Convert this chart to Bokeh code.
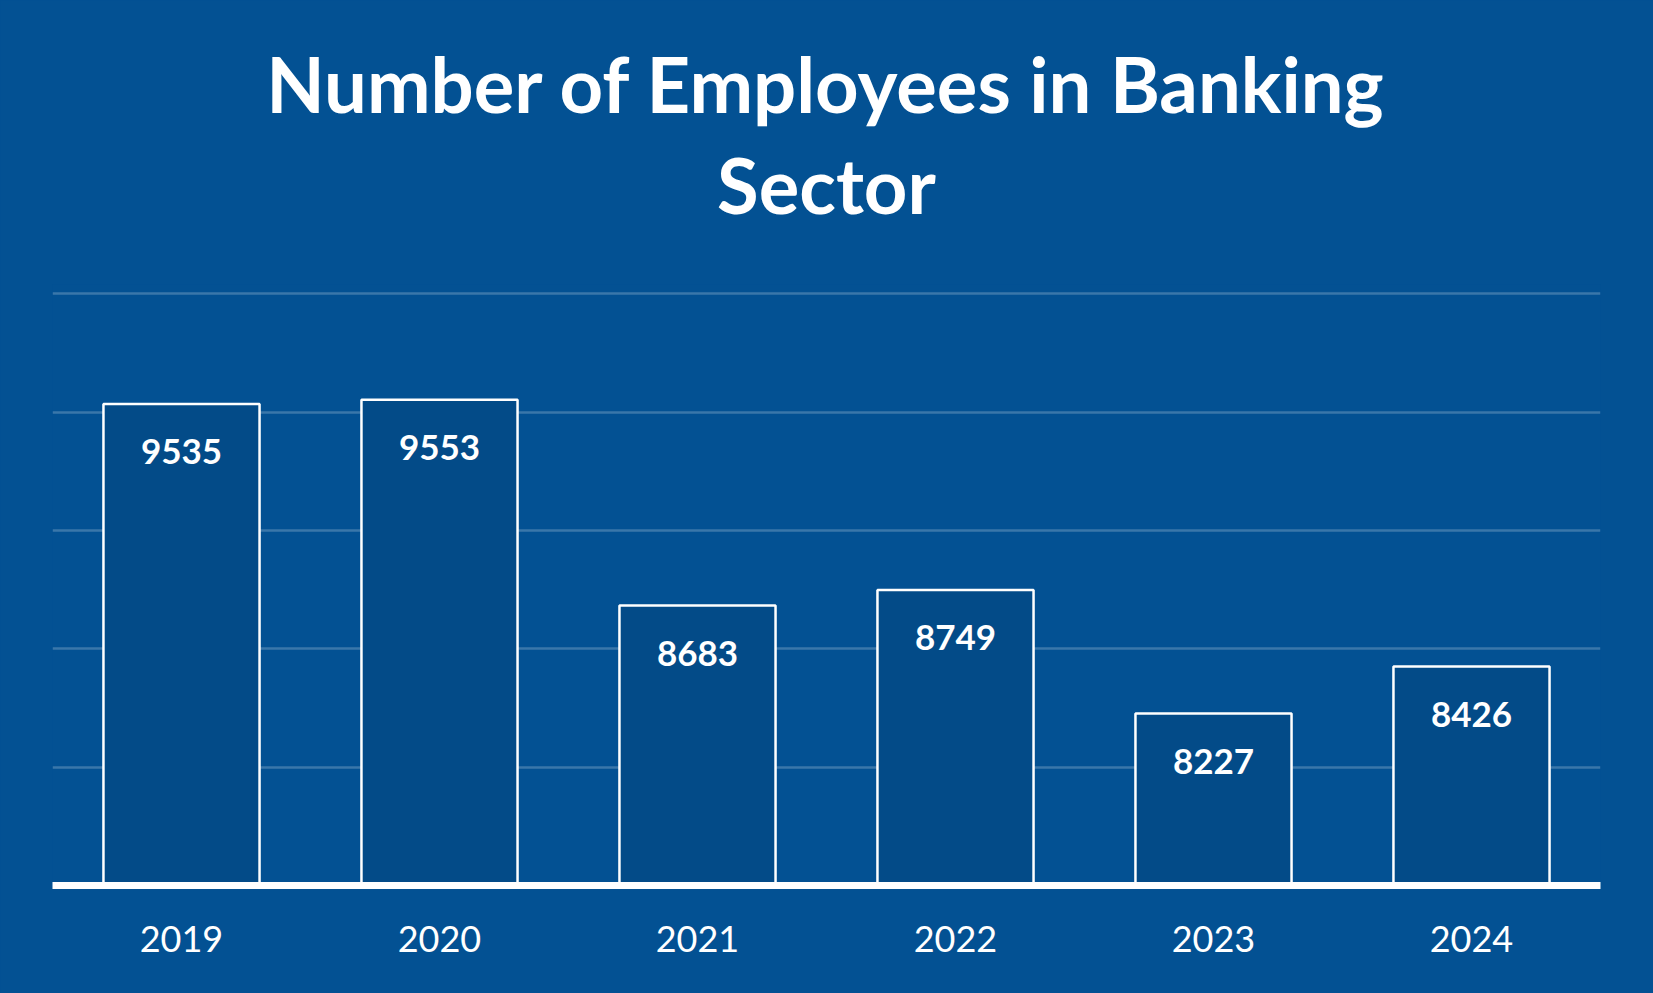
from bokeh.plotting import figure
from bokeh.models import ColumnDataSource, FixedTicker, Title
from bokeh.core.properties import value
from bokeh.embed import file_html
from bokeh.resources import INLINE

years = ["2019", "2020", "2021", "2022", "2023", "2024"]
employees = [9535, 9553, 8683, 8749, 8227, 8426]
labels = [str(v) for v in employees]
y_ticks = [8000, 8500, 9000, 9500, 10000]
y_base = 7500
y_top = 10040
title_lines = ["Number of Employees in Banking", "Sector"]

BG = "#035193"
BAR = "#034B88"

src = ColumnDataSource(dict(x=years, top=employees, bottom=[y_base] * len(years), label=labels))

p = figure(x_range=years, y_range=(y_base, y_top), width=1653, height=993,
           output_backend="svg", toolbar_location=None,
           min_border_left=52, min_border_right=53, min_border_bottom=108, min_border_top=0)

p.styles = {"background-color": BG}
p.background_fill_color = BG
p.border_fill_color = BG
p.outline_line_color = None

p.vbar(x="x", top="top", bottom="bottom", width=0.605, source=src,
       fill_color=BAR, line_color="white", line_width=2.5)

p.text(x="x", y="top", text="label", source=src, y_offset=48,
       text_align="center", text_baseline="alphabetic",
       text_color="white", text_font=value("Lato"), text_font_style="bold",
       text_font_size="35px")

p.yaxis.visible = False
p.yaxis.ticker = FixedTicker(ticks=y_ticks)
p.ygrid.ticker = FixedTicker(ticks=y_ticks)
p.ygrid.grid_line_color = "white"
p.ygrid.grid_line_alpha = 0.22
p.ygrid.grid_line_width = 2.5
p.xgrid.visible = False

ax = p.xaxis[0]
ax.axis_line_color = "white"
ax.axis_line_width = 7
ax.major_tick_line_color = None
ax.minor_tick_line_color = None
ax.major_tick_out = 0
ax.major_tick_in = 0
ax.major_label_standoff = 40
ax.major_label_text_color = "white"
ax.major_label_text_font = "Lato"
ax.major_label_text_font_size = "36px"

def spacer(h):
    return Title(text=" ", text_font_size="10px", standoff=h - 12, text_color=BG)

def title_line(txt):
    return Title(text=txt, align="center", text_color="white", text_font="Lato",
                 text_font_style="bold", text_font_size="76px", standoff=7.5)

p.add_layout(spacer(49.5), "above")
p.add_layout(title_line(title_lines[1]), "above")
p.add_layout(title_line(title_lines[0]), "above")
p.add_layout(spacer(30), "above")

open("out.html", "w").write(file_html(p, INLINE))
